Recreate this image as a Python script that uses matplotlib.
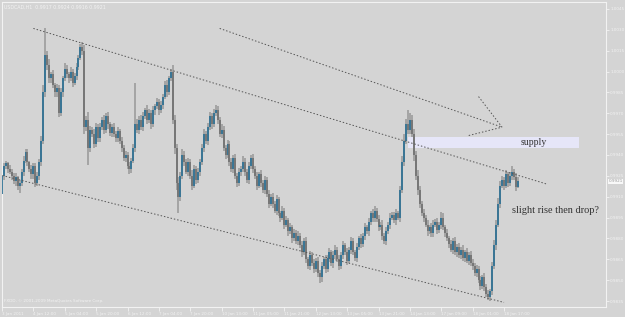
import matplotlib
matplotlib.use('Agg')
import matplotlib.pyplot as plt
from matplotlib.patches import Rectangle

# USDCAD H1 bars, prices in pips (1/10000)
first_open = 9912
closes = [
    9925, 9932, 9934, 9930, 9928, 9925, 9921, 9924, 9918, 9920,
    9928, 9936, 9942, 9935, 9930, 9926, 9932, 9920, 9925, 9935,
    9950, 9985, 10012, 10005, 9995, 9998, 9990, 9985, 9988, 9970,
    9985, 9995, 10002, 9998, 9995, 10000, 9992, 9997, 10003, 10010,
    10018, 10015, 9960, 9965, 9945, 9958, 9955, 9948, 9960, 9952,
    9960, 9965, 9958, 9968, 9962, 9956, 9960, 9955, 9952, 9957,
    9950, 9945, 9938, 9940, 9932, 9930, 9936, 9945, 9962, 9958,
    9965, 9960, 9968, 9972, 9965, 9970, 9962, 9972, 9975, 9978,
    9972, 9976, 9982, 9990, 9985, 9995, 10000, 9965, 9945, 9920,
    9910, 9925, 9940, 9935, 9928, 9935, 9925, 9918, 9930, 9922,
    9928, 9935, 9945, 9955, 9950, 9960, 9968, 9962, 9970, 9972,
    9965, 9955, 9958, 9945, 9940, 9948, 9935, 9930, 9938, 9925,
    9920, 9928, 9930, 9935, 9928, 9922, 9932, 9938, 9930, 9925,
    9918, 9926, 9920, 9915, 9922, 9912, 9905, 9910, 9905, 9900,
    9908, 9898, 9895, 9900, 9890, 9893, 9885, 9888, 9880, 9884,
    9878, 9882, 9875, 9870, 9878, 9865, 9860, 9868, 9862, 9858,
    9864, 9855, 9852, 9860, 9865, 9858, 9866, 9870, 9862, 9868,
    9872, 9865, 9860, 9868, 9875, 9870, 9864, 9872, 9878, 9870,
    9866, 9874, 9880, 9876, 9882, 9888, 9885, 9892, 9898, 9895,
    9900, 9894, 9888, 9890, 9882, 9878, 9885, 9890, 9895, 9897,
    9893, 9898, 9895, 9915, 9935, 9950, 9962, 9958, 9965, 9955,
    9940, 9925, 9915, 9905, 9898, 9895, 9890, 9885, 9888, 9884,
    9890, 9892, 9886, 9890, 9895, 9888, 9884, 9880, 9876, 9872,
    9878, 9870, 9874, 9868, 9872, 9866, 9870, 9864, 9868, 9862,
    9860, 9855, 9858, 9850, 9846, 9852, 9845, 9840, 9838, 9842,
    9860, 9875, 9890, 9905, 9918, 9922, 9918, 9926, 9920, 9925,
    9928, 9924, 9917, 9921,
]
wick_up = [
    3, 2, 2, 1, 3, 2, 2, 3, 1, 2,
    2, 3, 2, 2, 1, 3, 2, 2, 3, 2,
    4, 5, 19, 3, 4, 2, 3, 2, 3, 2,
    3, 2, 4, 3, 2, 3, 2, 2, 3, 2,
    2, 3, 4, 3, 6, 3, 2, 4, 3, 2,
    3, 2, 4, 2, 3, 2, 2, 3, 2, 3,
    2, 3, 2, 3, 2, 3, 2, 3, 30, 4,
    3, 4, 3, 2, 4, 3, 2, 3, 2, 3,
    2, 3, 2, 3, 4, 2, 2, 5, 4, 3,
    4, 3, 4, 3, 2, 3, 2, 4, 3, 2,
    3, 2, 3, 4, 2, 3, 3, 2, 3, 4,
    3, 2, 4, 3, 2, 3, 2, 3, 2, 3,
    2, 3, 2, 4, 3, 2, 3, 2, 3, 2,
    3, 2, 3, 2, 3, 2, 3, 2, 3, 2,
    3, 2, 2, 3, 2, 3, 2, 3, 2, 3,
    2, 3, 2, 3, 2, 3, 2, 3, 2, 3,
    2, 3, 2, 3, 2, 3, 2, 3, 2, 3,
    3, 2, 3, 2, 3, 2, 3, 2, 3, 2,
    2, 3, 2, 3, 2, 3, 2, 3, 2, 3,
    3, 2, 3, 2, 3, 2, 3, 2, 3, 2,
    2, 3, 2, 3, 4, 5, 4, 10, 5, 4,
    4, 3, 4, 3, 2, 3, 2, 3, 2, 3,
    3, 2, 3, 2, 4, 3, 2, 3, 2, 3,
    2, 3, 2, 3, 2, 3, 2, 3, 2, 3,
    3, 2, 3, 2, 3, 2, 3, 2, 3, 2,
    3, 4, 3, 4, 3, 3, 2, 3, 2, 3,
    4, 2, 3, 3,
]
wick_dn = [
    7, 3, 2, 3, 2, 3, 2, 3, 3, 5,
    2, 3, 2, 3, 2, 3, 3, 3, 2, 3,
    3, 2, 3, 4, 3, 3, 2, 3, 3, 3,
    2, 3, 2, 3, 3, 2, 3, 2, 3, 2,
    2, 3, 5, 3, 12, 3, 2, 3, 2, 3,
    3, 2, 3, 2, 3, 2, 3, 2, 3, 3,
    2, 3, 2, 3, 2, 4, 3, 2, 3, 2,
    3, 2, 3, 2, 3, 2, 3, 2, 3, 2,
    3, 2, 3, 2, 3, 2, 2, 3, 4, 5,
    12, 3, 2, 3, 2, 3, 2, 3, 2, 3,
    2, 3, 2, 3, 2, 3, 2, 3, 2, 2,
    3, 2, 3, 2, 3, 2, 3, 2, 3, 2,
    3, 2, 3, 2, 3, 2, 3, 2, 3, 2,
    3, 2, 3, 2, 3, 2, 3, 2, 3, 2,
    3, 2, 3, 2, 3, 2, 3, 2, 3, 2,
    2, 3, 2, 3, 2, 3, 2, 3, 2, 3,
    2, 3, 4, 3, 2, 3, 2, 3, 2, 3,
    3, 2, 3, 2, 3, 2, 3, 2, 3, 2,
    2, 3, 2, 3, 2, 3, 2, 3, 2, 3,
    3, 2, 3, 2, 3, 2, 3, 2, 3, 2,
    2, 3, 2, 3, 2, 3, 2, 3, 3, 2,
    4, 3, 4, 3, 2, 3, 2, 3, 2, 3,
    3, 2, 3, 2, 3, 2, 3, 2, 3, 2,
    3, 2, 3, 2, 3, 2, 3, 2, 3, 2,
    3, 2, 3, 2, 3, 2, 3, 2, 2, 3,
    3, 2, 3, 2, 3, 2, 3, 2, 3, 2,
    3, 2, 3, 1,
]

time_labels = ['3 Jan 2011', '4 Jan 12:00', '5 Jan 04:00', '5 Jan 20:00', '6 Jan 12:00',
               '7 Jan 04:00', '7 Jan 20:00', '10 Jan 13:00', '11 Jan 05:00', '11 Jan 21:00',
               '12 Jan 13:00', '13 Jan 05:00', '13 Jan 21:00', '14 Jan 13:00', '17 Jan 09:00',
               '18 Jan 01:00', '18 Jan 17:00']
price_ticks = [1.0045, 1.0030, 1.0015, 1.0000, 0.9985, 0.9970, 0.9955, 0.9940,
               0.9925, 0.9910, 0.9895, 0.9880, 0.9865, 0.9850, 0.9835]

# hand drawn objects: (bar, price)
channel_top = [(16, 1.0031), (278, 0.9919)]
channel_bottom = [(-2, 0.9926), (256, 0.9834)]
outer_line = [(111, 1.0031), (255, 0.9960)]
arrow_tails = [(243, 0.9982), (238, 0.9954)]
supply_zone = (207, 294, 0.9945, 0.9953)

BG = '#d4d4d4'
FG = '#f2f2f2'
SMALL = 3.0

n = len(closes)
opens = [first_open] + closes[:-1]
o = [v / 10000 for v in opens]
c = [v / 10000 for v in closes]
hi = [max(a, b) + w / 10000 for a, b, w in zip(o, c, wick_up)]
lo = [min(a, b) - w / 10000 for a, b, w in zip(o, c, wick_dn)]
idx = list(range(n))

fig = plt.figure(figsize=(6.25, 3.17), dpi=100, facecolor=BG)
ax = fig.add_axes([2 / 625, 10 / 317, 604 / 625, 305 / 317])
ax.set_facecolor(BG)
ax.set_xlim(0, 308)
ax.set_ylim(0.98307, 1.00500)

# supply box under candles
x0, x1, p0, p1 = supply_zone
ax.add_patch(Rectangle((x0, p0), x1 - x0, p1 - p0, facecolor='#e6e6f8', edgecolor='none', zorder=1))
ax.text(x1 - 23, (p0 + p1) / 2, 'supply', family='Liberation Serif', fontsize=7,
        color='#333333', ha='center', va='center', zorder=5)

# candles
ax.vlines(idx, lo, hi, color='#9c9c9c', linewidth=1.2, zorder=2)
for i in idx:
    bot, top = min(o[i], c[i]), max(o[i], c[i])
    if top - bot < 0.00008:
        top = bot + 0.00008
    col = '#2b6f93' if c[i] > o[i] else '#707070'
    ax.vlines(i, bot, top, color=col, linewidth=1.25, zorder=3)

# trend lines
for line in (channel_top, channel_bottom, outer_line):
    ax.plot([p[0] for p in line], [p[1] for p in line], color='#555555',
            linestyle=(0, (1.5, 2)), linewidth=0.7, zorder=4)
tip = outer_line[1]
for tail in arrow_tails:
    ax.plot([tail[0], tip[0]], [tail[1], tip[1]], color='#555555',
            linestyle=(0, (1.5, 2)), linewidth=0.7, zorder=4)

ax.text(260, 0.9900, 'slight rise then drop?', family='Liberation Serif', fontsize=7.4,
        color='#333333', ha='left', va='center', zorder=5)

# axes like the terminal
for s in ax.spines.values():
    s.set_color(FG)
    s.set_linewidth(0.8)
ax.yaxis.tick_right()
ax.set_yticks(price_ticks)
ax.set_yticklabels(['%.4f' % p for p in price_ticks])
ax.set_xticks([16 * k for k in range(len(time_labels))])
ax.set_xticklabels(time_labels)
for lbl in ax.get_xticklabels():
    lbl.set_ha('left')
ax.tick_params(axis='x', direction='out', length=3, width=0.6, color=FG, labelcolor=FG,
               labelsize=SMALL, pad=0.5)
ax.tick_params(axis='y', direction='out', length=2, width=0.6, color=FG, labelcolor=FG,
               labelsize=SMALL, pad=1)

# current price marker
ax.text(1.004, c[-1], '%.4f' % c[-1], transform=ax.get_yaxis_transform(), fontsize=SMALL,
        color='#9a9a9a', ha='left', va='center', zorder=6,
        bbox=dict(boxstyle='square,pad=0.2', facecolor='#f8f8f8', edgecolor='none'))

ax.text(0.004, 0.99, 'USDCAD,H1  0.9917 0.9924 0.9916 0.9921', transform=ax.transAxes,
        fontsize=3.4, color=FG, ha='left', va='top')
ax.text(0.003, 0.012, 'FXDD, \u00a9 2001-2009 MetaQuotes Software Corp.', transform=ax.transAxes,
        fontsize=3.0, color=FG, ha='left', va='bottom')

fig.savefig('out.png', dpi=100, facecolor=BG)
